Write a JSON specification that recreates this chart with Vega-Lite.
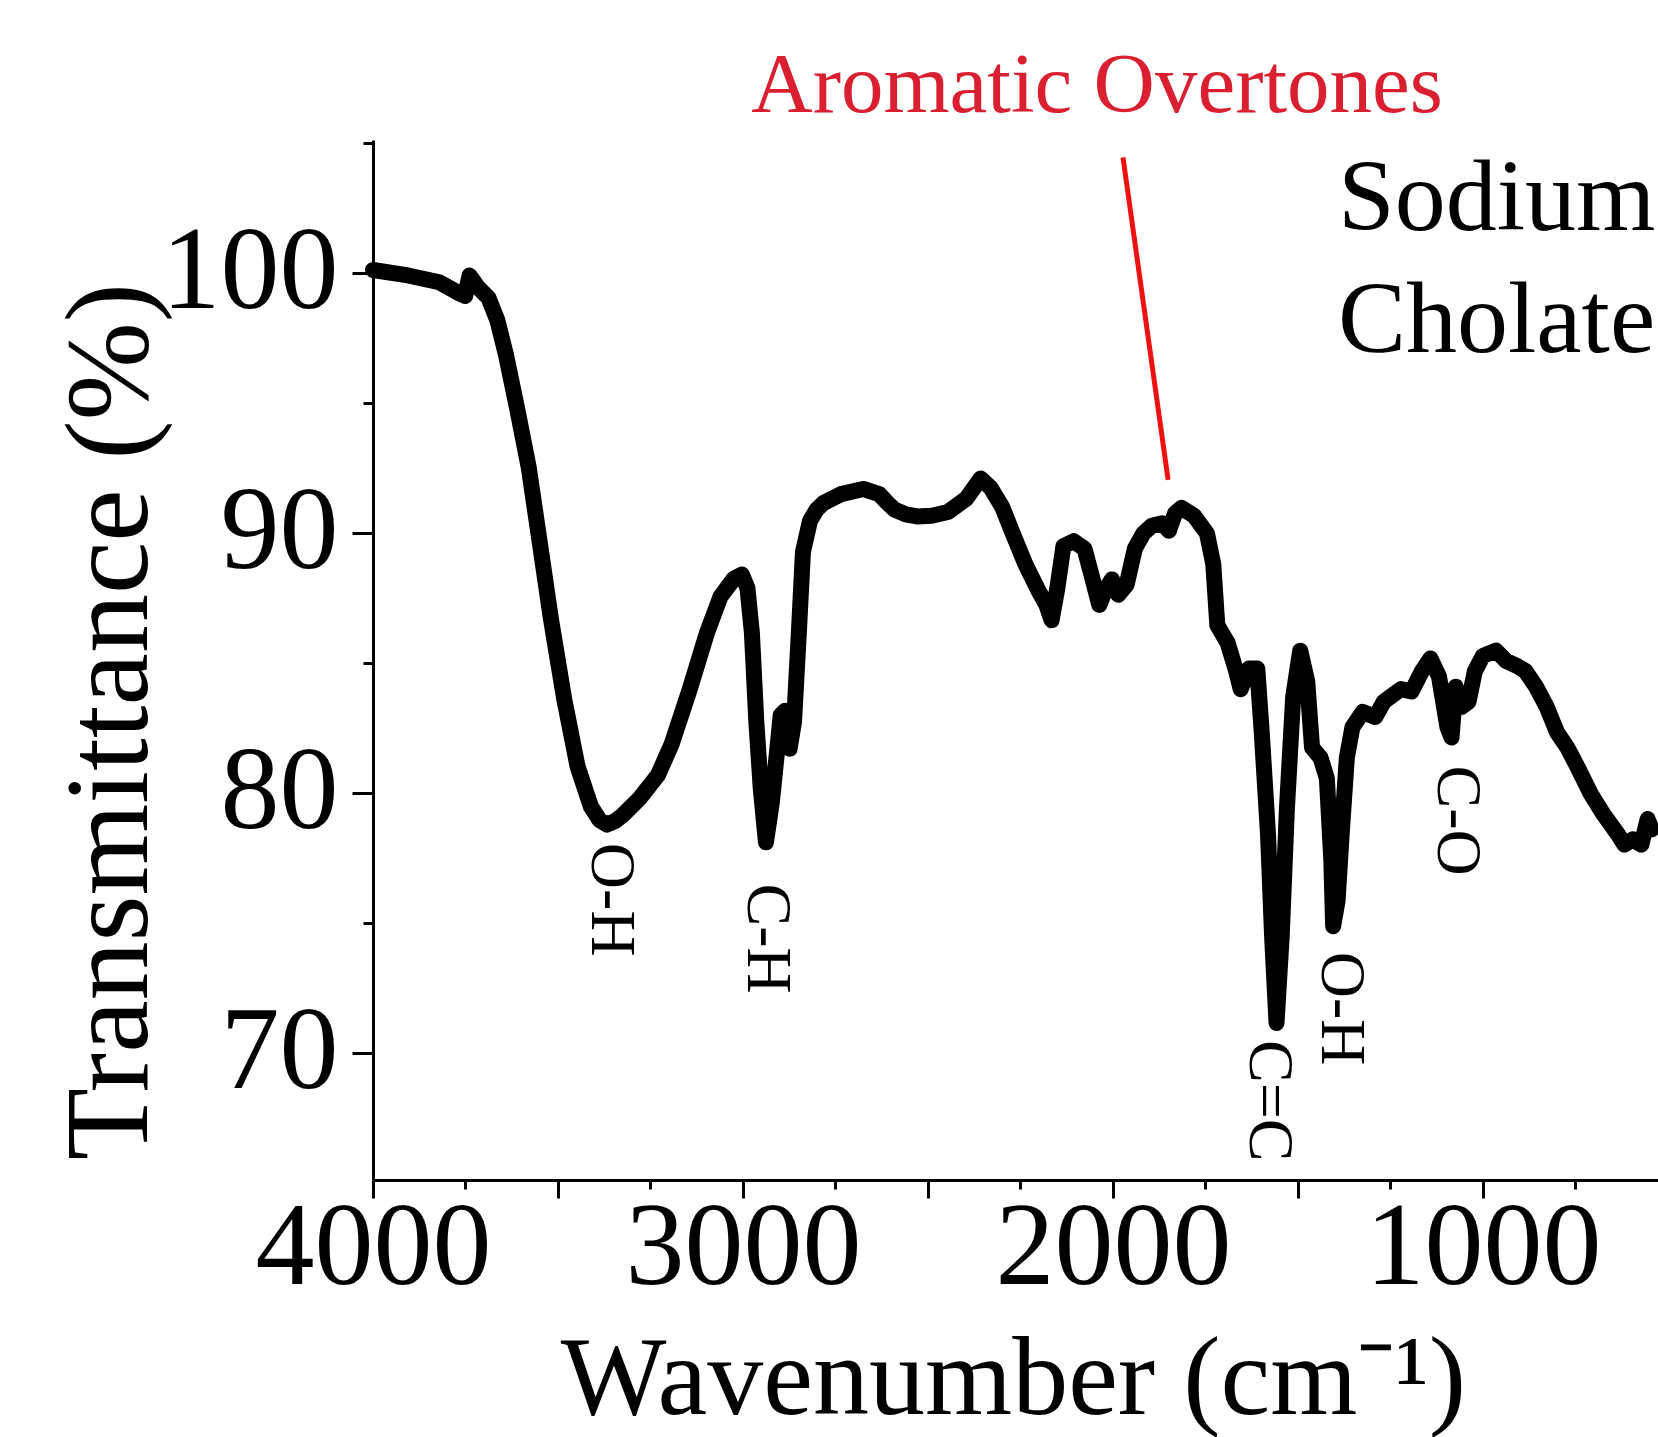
{
  "$schema": "https://vega.github.io/schema/vega-lite/v6.json",
  "autosize": "none",
  "width": 1285,
  "height": 1040,
  "padding": {"left": 373, "top": 140, "right": 0, "bottom": 257},
  "background": "white",
  "config": {
    "view": {"stroke": null},
    "font": "Liberation Serif",
    "axis": {"grid": false, "domainColor": "black", "tickColor": "black", "domainWidth": 3, "tickWidth": 3, "labelColor": "black", "titleColor": "black", "labelFont": "Liberation Serif", "titleFont": "Liberation Serif", "titleFontWeight": "normal", "labelLimit": 0, "titleLimit": 0}
  },
  "datasets": {
    "spectrum": [
      {"wn": 4000, "t": 100.1}, {"wn": 3905, "t": 99.89}, {"wn": 3821, "t": 99.63}, {"wn": 3766, "t": 99.2},
      {"wn": 3751, "t": 99.1}, {"wn": 3739, "t": 99.89}, {"wn": 3718, "t": 99.46}, {"wn": 3688, "t": 99.03},
      {"wn": 3664, "t": 98.17}, {"wn": 3640, "t": 96.8}, {"wn": 3610, "t": 94.74}, {"wn": 3579, "t": 92.5},
      {"wn": 3549, "t": 89.59}, {"wn": 3519, "t": 86.67}, {"wn": 3483, "t": 83.58}, {"wn": 3447, "t": 81.0},
      {"wn": 3411, "t": 79.46}, {"wn": 3388, "t": 78.95}, {"wn": 3368, "t": 78.77}, {"wn": 3346, "t": 78.9}, {"wn": 3326, "t": 79.12}, {"wn": 3278, "t": 79.8},
      {"wn": 3230, "t": 80.67}, {"wn": 3193, "t": 81.86}, {"wn": 3145, "t": 83.93}, {"wn": 3097, "t": 86.16},
      {"wn": 3061, "t": 87.53}, {"wn": 3025, "t": 88.22}, {"wn": 3003, "t": 88.39}, {"wn": 2988, "t": 87.87},
      {"wn": 2976, "t": 86.16}, {"wn": 2964, "t": 82.73}, {"wn": 2952, "t": 80.15}, {"wn": 2938, "t": 78.09},
      {"wn": 2922, "t": 79.63}, {"wn": 2906, "t": 81.86}, {"wn": 2898, "t": 82.98}, {"wn": 2886, "t": 83.15},
      {"wn": 2874, "t": 81.69}, {"wn": 2862, "t": 82.73}, {"wn": 2849, "t": 86.16}, {"wn": 2838, "t": 89.25},
      {"wn": 2819, "t": 90.45}, {"wn": 2800, "t": 90.9}, {"wn": 2783, "t": 91.13}, {"wn": 2735, "t": 91.48}, {"wn": 2675, "t": 91.68},
      {"wn": 2632, "t": 91.48}, {"wn": 2610, "t": 91.15}, {"wn": 2590, "t": 90.88}, {"wn": 2560, "t": 90.7}, {"wn": 2530, "t": 90.62}, {"wn": 2490, "t": 90.65}, {"wn": 2446, "t": 90.79},
      {"wn": 2397, "t": 91.3}, {"wn": 2358, "t": 92.08}, {"wn": 2331, "t": 91.73}, {"wn": 2300, "t": 91.0},
      {"wn": 2271, "t": 89.97}, {"wn": 2237, "t": 88.79}, {"wn": 2203, "t": 87.81}, {"wn": 2180, "t": 87.22},
      {"wn": 2166, "t": 86.63}, {"wn": 2151, "t": 87.81}, {"wn": 2134, "t": 89.48}, {"wn": 2106, "t": 89.67},
      {"wn": 2077, "t": 89.38}, {"wn": 2055, "t": 88.2}, {"wn": 2037, "t": 87.22}, {"wn": 2020, "t": 87.81},
      {"wn": 2003, "t": 88.2}, {"wn": 1986, "t": 87.61}, {"wn": 1963, "t": 88.0}, {"wn": 1941, "t": 89.38},
      {"wn": 1918, "t": 89.97}, {"wn": 1895, "t": 90.26}, {"wn": 1867, "t": 90.36}, {"wn": 1849, "t": 90.07},
      {"wn": 1832, "t": 90.75}, {"wn": 1815, "t": 90.95}, {"wn": 1781, "t": 90.65}, {"wn": 1746, "t": 89.97},
      {"wn": 1729, "t": 88.79}, {"wn": 1718, "t": 86.44}, {"wn": 1690, "t": 85.75}, {"wn": 1667, "t": 84.67},
      {"wn": 1655, "t": 83.98}, {"wn": 1632, "t": 84.77}, {"wn": 1610, "t": 84.77}, {"wn": 1598, "t": 82.32},
      {"wn": 1581, "t": 78.39}, {"wn": 1570, "t": 74.47}, {"wn": 1558, "t": 71.14}, {"wn": 1544, "t": 74.47},
      {"wn": 1530, "t": 79.37}, {"wn": 1513, "t": 83.69}, {"wn": 1494, "t": 85.46}, {"wn": 1475, "t": 84.28},
      {"wn": 1462, "t": 81.73}, {"wn": 1439, "t": 81.34}, {"wn": 1422, "t": 80.55}, {"wn": 1410, "t": 77.41},
      {"wn": 1405, "t": 74.86}, {"wn": 1393, "t": 75.84}, {"wn": 1382, "t": 78.39}, {"wn": 1368, "t": 81.34},
      {"wn": 1353, "t": 82.51}, {"wn": 1325, "t": 83.1}, {"wn": 1291, "t": 82.91}, {"wn": 1268, "t": 83.5},
      {"wn": 1222, "t": 83.98}, {"wn": 1193, "t": 83.89}, {"wn": 1165, "t": 84.67}, {"wn": 1142, "t": 85.16},
      {"wn": 1119, "t": 84.47}, {"wn": 1096, "t": 82.51}, {"wn": 1085, "t": 82.12}, {"wn": 1074, "t": 84.07},
      {"wn": 1057, "t": 83.3}, {"wn": 1039, "t": 83.5}, {"wn": 1022, "t": 84.67}, {"wn": 1000, "t": 85.26},
      {"wn": 965, "t": 85.46}, {"wn": 937, "t": 85.06}, {"wn": 908, "t": 84.87}, {"wn": 885, "t": 84.67},
      {"wn": 857, "t": 84.08}, {"wn": 828, "t": 83.3}, {"wn": 800, "t": 82.32}, {"wn": 772, "t": 81.73},
      {"wn": 743, "t": 80.94}, {"wn": 709, "t": 79.96}, {"wn": 675, "t": 79.18}, {"wn": 635, "t": 78.39},
      {"wn": 618, "t": 78.0}, {"wn": 595, "t": 78.2}, {"wn": 572, "t": 78.0}, {"wn": 555, "t": 78.98},
      {"wn": 544, "t": 78.59}
    ],
    "peaks": [
      {"wn": 3357, "t": 75.88, "label": "O-H"},
      {"wn": 2935, "t": 74.38, "label": "C-H"},
      {"wn": 1578, "t": 68.15, "label": "C=C"},
      {"wn": 1384, "t": 71.69, "label": "O-H"},
      {"wn": 1070, "t": 78.92, "label": "C-O"}
    ],
    "pointer": [
      {"wn": 1973, "t": 104.43},
      {"wn": 1851, "t": 92.03}
    ],
    "aromatic": [
      {"wn": 2043, "t": 106.18, "label": "Aromatic Overtones"}
    ],
    "sample": [
      {"wn": 1392, "t": 101.64, "label": "Sodium"},
      {"wn": 1392, "t": 96.95, "label": "Cholate"}
    ]
  },
  "layer": [
    {
      "data": {"name": "spectrum"},
      "mark": {"type": "line", "color": "black", "strokeWidth": 16, "strokeJoin": "round", "strokeCap": "round"},
      "encoding": {
        "x": {
          "field": "wn", "type": "quantitative",
          "scale": {"domain": [4000, 527], "nice": false, "zero": false},
          "axis": {
            "title": "Wavenumber (cm⁻¹)",
            "values": [4000, 3750, 3500, 3250, 3000, 2750, 2500, 2250, 2000, 1750, 1500, 1250, 1000, 750],
            "labelExpr": "datum.value % 1000 === 0 ? format(datum.value, 'd') : ''",
            "tickSize": {"condition": {"test": "datum.value % 500 === 0", "value": 18}, "value": 9},
            "labelFontSize": 118,
            "labelBaseline": "top",
            "labelPadding": -8,
            "labelFlush": false,
            "labelOverlap": false,
            "titleFontSize": 112,
            "titleX": 640,
            "titleY": 233,
            "titleAlign": "center",
            "titleBaseline": "alphabetic"
          }
        },
        "y": {
          "field": "t", "type": "quantitative",
          "scale": {"domain": [65.1, 105.1], "nice": false, "zero": false},
          "axis": {
            "title": "Transmittance (%)",
            "values": [65, 70, 75, 80, 85, 90, 95, 100, 105],
            "labelExpr": "datum.value % 10 === 0 ? format(datum.value, 'd') : ''",
            "tickSize": {"condition": {"test": "datum.value % 10 === 0", "value": 21}, "value": 10},
            "labelFontSize": 118,
            "labelPadding": 14,
            "labelBaseline": "middle",
            "labelFlush": false,
            "labelOverlap": false,
            "titleFontSize": 118,
            "titleAngle": -90,
            "titleX": -262,
            "titleY": 581,
            "titleAlign": "center",
            "titleBaseline": "middle"
          }
        }
      }
    },
    {
      "data": {"name": "pointer"},
      "mark": {"type": "line", "color": "#ee1111", "strokeWidth": 5},
      "encoding": {
        "x": {"field": "wn", "type": "quantitative"},
        "y": {"field": "t", "type": "quantitative"}
      }
    },
    {
      "data": {"name": "peaks"},
      "mark": {"type": "text", "angle": 90, "align": "center", "baseline": "middle", "fontSize": 64, "color": "black", "font": "Liberation Serif"},
      "encoding": {
        "x": {"field": "wn", "type": "quantitative"},
        "y": {"field": "t", "type": "quantitative"},
        "text": {"field": "label"}
      }
    },
    {
      "data": {"name": "aromatic"},
      "mark": {"type": "text", "align": "center", "baseline": "alphabetic", "fontSize": 85, "color": "#d91f30", "font": "Liberation Serif"},
      "encoding": {
        "x": {"field": "wn", "type": "quantitative"},
        "y": {"field": "t", "type": "quantitative"},
        "text": {"field": "label"}
      }
    },
    {
      "data": {"name": "sample"},
      "mark": {"type": "text", "align": "left", "baseline": "alphabetic", "fontSize": 102, "color": "black", "font": "Liberation Serif"},
      "encoding": {
        "x": {"field": "wn", "type": "quantitative"},
        "y": {"field": "t", "type": "quantitative"},
        "text": {"field": "label"}
      }
    }
  ]
}
